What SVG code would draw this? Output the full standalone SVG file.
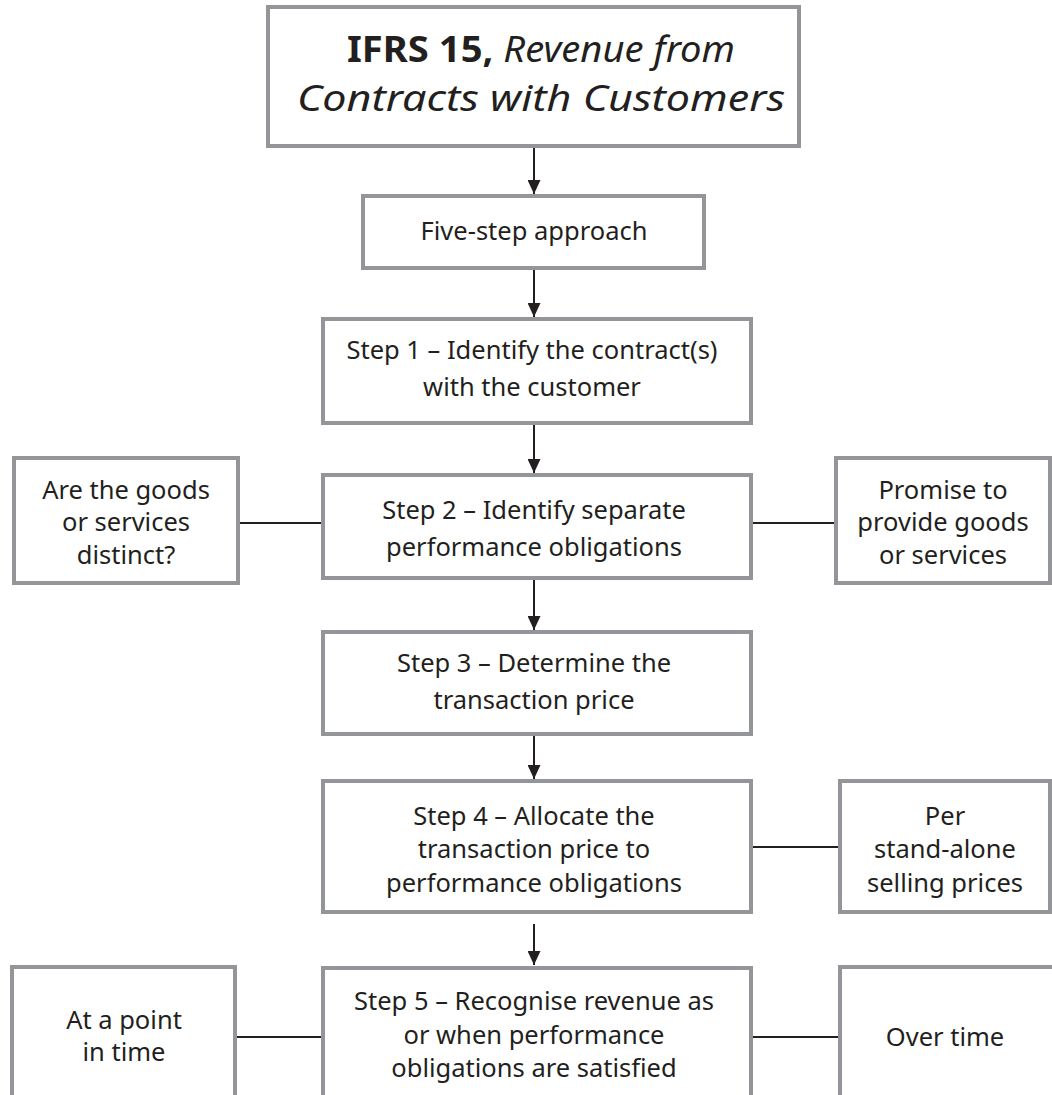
<svg xmlns="http://www.w3.org/2000/svg" width="1052" height="1095" viewBox="0 0 1052 1095">
  <style>
    .box { fill: #ffffff; stroke: #939598; stroke-width: 4; }
    .lbl { font-family: "Noto Sans", "DejaVu Sans", sans-serif; font-size: 25.5px; fill: #231f20; text-anchor: middle; }
    .ttl { font-family: "Noto Sans", "DejaVu Sans", sans-serif; font-size: 35.5px; fill: #231f20; text-anchor: middle; }
    .link { stroke: #231f20; stroke-width: 2; fill: none; }
  </style>
  <defs>
    <marker id="arrow" viewBox="0 0 14 13" refX="14" refY="6.5" markerWidth="14" markerHeight="13" markerUnits="userSpaceOnUse" orient="auto">
      <path d="M0,0 L14,6.5 L0,13 Z" fill="#231f20"/>
    </marker>
  </defs>
  <rect width="1052" height="1095" fill="#ffffff"/>

  <!-- connectors: vertical flow arrows and horizontal side links -->
  <g id="connectors">
    <line class="link" x1="534" y1="148" x2="534" y2="194" marker-end="url(#arrow)"/>
    <line class="link" x1="534" y1="270" x2="534" y2="317" marker-end="url(#arrow)"/>
    <line class="link" x1="534" y1="425" x2="534" y2="473" marker-end="url(#arrow)"/>
    <line class="link" x1="534" y1="580" x2="534" y2="630" marker-end="url(#arrow)"/>
    <line class="link" x1="534" y1="736" x2="534" y2="779" marker-end="url(#arrow)"/>
    <line class="link" x1="534" y1="924" x2="534" y2="965" marker-end="url(#arrow)"/>
    <line class="link" x1="238" y1="523" x2="321" y2="523"/>
    <line class="link" x1="753" y1="523" x2="834" y2="523"/>
    <line class="link" x1="753" y1="847" x2="838" y2="847"/>
    <line class="link" x1="237" y1="1037" x2="321" y2="1037"/>
    <line class="link" x1="753" y1="1037" x2="838" y2="1037"/>
  </g>

  <g id="title">
    <rect class="box" x="268" y="7" width="531" height="139"/>
    <text class="ttl" x="541" y="62" textLength="388" lengthAdjust="spacingAndGlyphs"><tspan font-weight="bold">IFRS 15,</tspan> <tspan font-style="italic">Revenue from</tspan></text>
    <text class="ttl" x="541" y="110.5" font-style="italic" textLength="488" lengthAdjust="spacingAndGlyphs">Contracts with Customers</text>
  </g>

  <g id="five-step">
    <rect class="box" x="363" y="196" width="341" height="72"/>
    <text class="lbl" x="534" y="240">Five-step approach</text>
  </g>

  <g id="step1">
    <rect class="box" x="323" y="319" width="428" height="104"/>
    <text class="lbl" x="532" y="359">Step 1 – Identify the contract(s)</text>
    <text class="lbl" x="532" y="396">with the customer</text>
  </g>

  <g id="step2">
    <rect class="box" x="323" y="475" width="428" height="103"/>
    <text class="lbl" x="534" y="519">Step 2 – Identify separate</text>
    <text class="lbl" x="534" y="556">performance obligations</text>
  </g>

  <g id="distinct">
    <rect class="box" x="14" y="458" width="224" height="125"/>
    <text class="lbl" x="126" y="499">Are the goods</text>
    <text class="lbl" x="126" y="531">or services</text>
    <text class="lbl" x="126" y="564">distinct?</text>
  </g>

  <g id="promise">
    <rect class="box" x="836" y="458" width="214" height="125"/>
    <text class="lbl" x="943" y="499">Promise to</text>
    <text class="lbl" x="943" y="531">provide goods</text>
    <text class="lbl" x="943" y="564">or services</text>
  </g>

  <g id="step3">
    <rect class="box" x="323" y="632" width="428" height="102"/>
    <text class="lbl" x="534" y="672">Step 3 – Determine the</text>
    <text class="lbl" x="534" y="709">transaction price</text>
  </g>

  <g id="step4">
    <rect class="box" x="323" y="781" width="428" height="131"/>
    <text class="lbl" x="534" y="825">Step 4 – Allocate the</text>
    <text class="lbl" x="534" y="858">transaction price to</text>
    <text class="lbl" x="534" y="892">performance obligations</text>
  </g>

  <g id="ssp">
    <rect class="box" x="840" y="781" width="210" height="131"/>
    <text class="lbl" x="945" y="825">Per</text>
    <text class="lbl" x="945" y="858">stand-alone</text>
    <text class="lbl" x="945" y="892">selling prices</text>
  </g>

  <g id="step5">
    <rect class="box" x="323" y="968" width="428" height="160"/>
    <text class="lbl" x="534" y="1010">Step 5 – Recognise revenue as</text>
    <text class="lbl" x="534" y="1044">or when performance</text>
    <text class="lbl" x="534" y="1077">obligations are satisfied</text>
  </g>

  <g id="point-in-time">
    <rect class="box" x="12" y="967" width="223" height="160"/>
    <text class="lbl" x="124" y="1029">At a point</text>
    <text class="lbl" x="124" y="1061">in time</text>
  </g>

  <g id="over-time">
    <rect class="box" x="840" y="967" width="240" height="160"/>
    <text class="lbl" x="945" y="1046">Over time</text>
  </g>
</svg>
